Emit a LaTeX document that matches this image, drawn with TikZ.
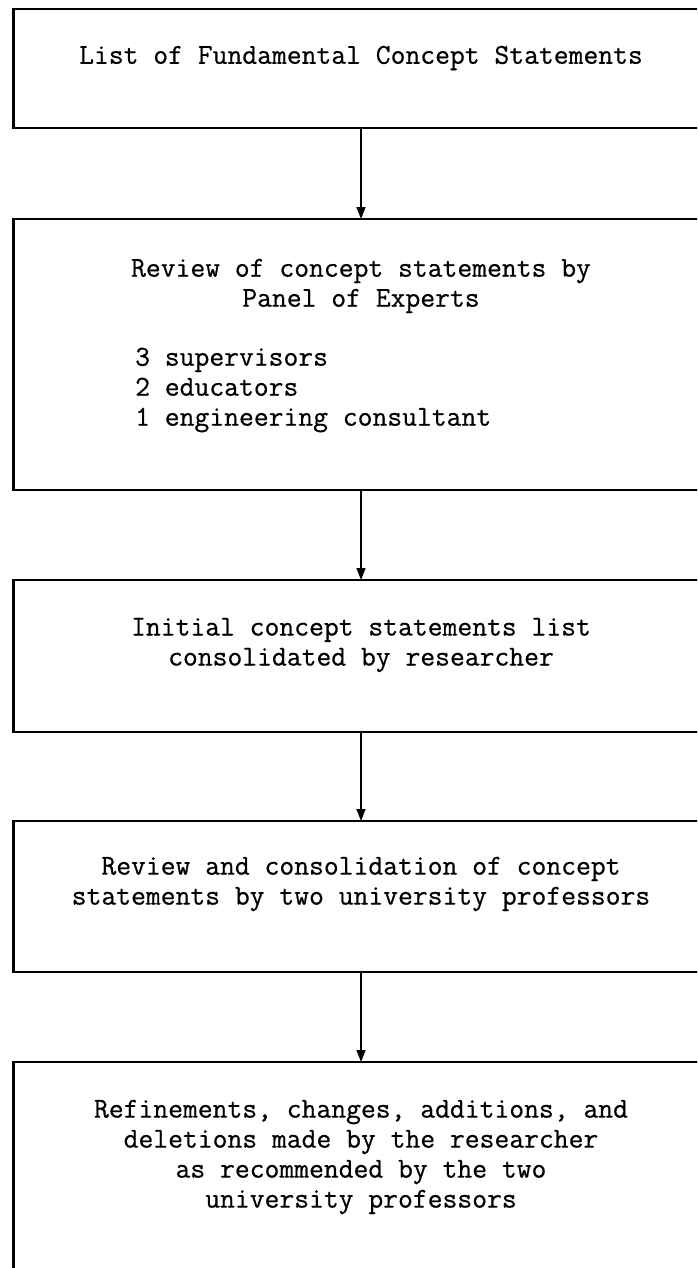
\documentclass[tikz,border=0pt]{standalone}
\usepackage{fontspec}
\setmonofont{Latin Modern Mono}[FakeBold=0.6]
\usetikzlibrary{arrows.meta}
\begin{document}
\begin{tikzpicture}[x=1pt,y=-1pt,
  box/.style={draw, line width=2.6pt, minimum width=695pt, inner sep=0pt, outer sep=0pt},
  txt/.style={font=\fontsize{28.8}{30}\selectfont\ttfamily, align=center, inner sep=0pt},
  conn/.style={line width=1.6pt, -{Triangle[length=12pt,width=9pt]}}]
\useasboundingbox (0,0) rectangle (697,1268);
\clip (0,0) rectangle (697,1268);
\node[box, minimum height=119pt] (b1) at (361,68.5) {};
\node[box, minimum height=271pt] (b2) at (361,354.5) {};
\node[box, minimum height=152pt] (b3) at (361,656) {};
\node[box, minimum height=151pt] (b4) at (361,896.5) {};
\node[box, minimum height=258pt] (b5) at (361,1191) {};
\node[txt] (t1) at (361,58) {List of Fundamental Concept Statements};
\node[txt] (t2) at (361,286) {Review of concept statements by\\Panel of Experts};
\node[txt, align=left, anchor=west] (t2b) at (135,390) {3 supervisors\\2 educators\\1 engineering consultant};
\node[txt] (t3) at (361,645) {Initial concept statements list\\consolidated by researcher};
\node[txt] (t4) at (361,884) {Review and consolidation of concept\\statements by two university professors};
\node[txt] (t5) at (361,1157) {Refinements, changes, additions, and\\deletions made by the researcher\\as recommended by the two\\university professors};
\draw[conn] (b1) -- (b2);
\draw[conn] (b2) -- (b3);
\draw[conn] (b3) -- (b4);
\draw[conn] (b4) -- (b5);
\end{tikzpicture}
\end{document}
